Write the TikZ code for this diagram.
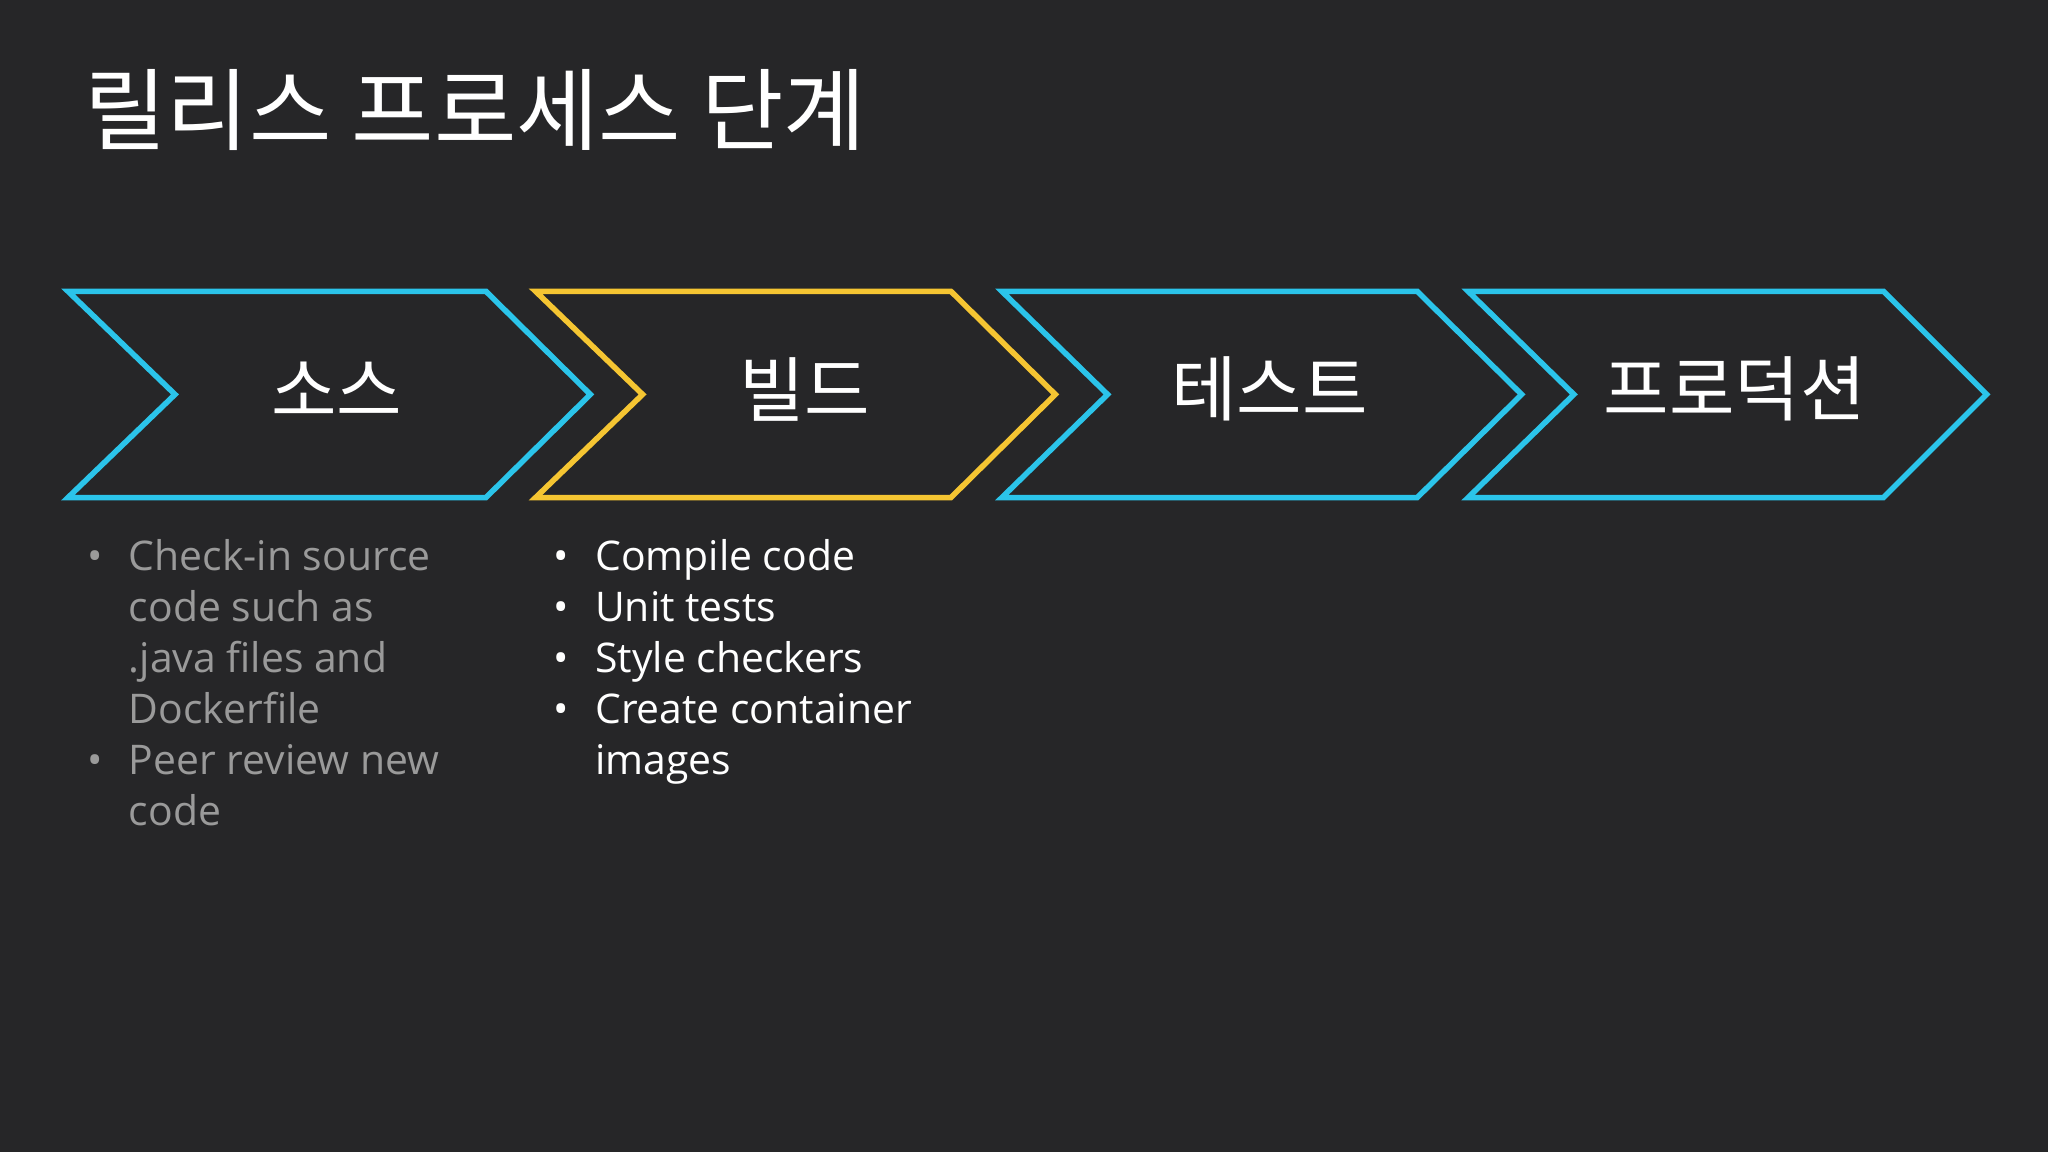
\documentclass[tikz,border=0pt]{standalone}
\usepackage{fontspec}
\setmainfont{Open Sans}
\newfontfamily\kr{Noto Sans CJK KR}
\definecolor{bg}{HTML}{262628}
\definecolor{cy}{HTML}{2BC4EA}
\definecolor{yl}{HTML}{F5C532}
\definecolor{gr}{HTML}{9A9A9A}
\begin{document}
\begin{tikzpicture}[x=0.01cm,y=-0.01cm,
  chev/.style={line width=1.2pt,line join=miter},
  lab/.style={text=white,font=\kr\fontsize{15.5pt}{18pt}\selectfont},
  bl/.style={anchor=base west,inner sep=0pt,font=\fontsize{8.9pt}{11.06pt}\selectfont}]
\fill[bg] (0,0) rectangle (1568,882);
\useasboundingbox (0,0) rectangle (1568,882);
\node[anchor=west,inner sep=0pt,text=white,font=\kr\fontsize{19.5pt}{22pt}\selectfont] (title) at (64,84) {릴리스 프로세스 단계};
\draw[chev,cy] (52,223)--(372,223)--(452,302)--(372,381)--(52,381)--(134,302)--cycle;
\draw[chev,yl] (410,223)--(728,223)--(808,302)--(728,381)--(410,381)--(492,302)--cycle;
\draw[chev,cy] (767,223)--(1085,223)--(1165,302)--(1085,381)--(767,381)--(848,302)--cycle;
\draw[chev,cy] (1124,223)--(1442,223)--(1521,302)--(1442,381)--(1124,381)--(1205,302)--cycle;
\node[lab] (s1) at (258,298) {소스};
\node[lab] (s2) at (616,298) {빌드};
\node[lab] (s3) at (972,298) {테스트};
\node[lab] (s4) at (1328,298) {프로덕션};
\begin{scope}[every node/.style={bl,text=gr}]
\node (b1) at (66,437) {•};
\node (t1a) at (98,437) {Check-in source};
\node (t1b) at (98,476) {code such as};
\node (t1c) at (98,515) {.java files and};
\node (t1d) at (98,554) {Dockerfile};
\node (b2) at (66,593) {•};
\node (t2a) at (98,593) {Peer review new};
\node (t2b) at (98,632) {code};
\end{scope}
\begin{scope}[every node/.style={bl,text=white}]
\node (c1) at (423,437) {•};
\node (d1) at (455,437) {Compile code};
\node (c2) at (423,476) {•};
\node (d2) at (455,476) {Unit tests};
\node (c3) at (423,515) {•};
\node (d3) at (455,515) {Style checkers};
\node (c4) at (423,554) {•};
\node (d4a) at (455,554) {Create container};
\node (d4b) at (455,593) {images};
\end{scope}
\end{tikzpicture}
\end{document}
